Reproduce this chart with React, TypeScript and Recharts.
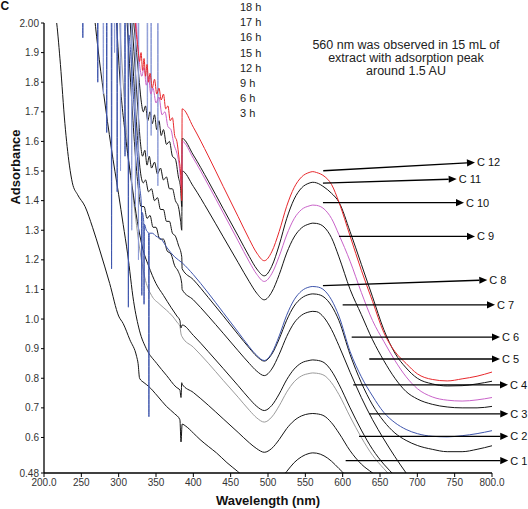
import { Label, Line, LineChart, ReferenceLine, XAxis, YAxis } from "recharts"

type Pt = [number, number]

const FONT = "'Liberation Sans', Arial, sans-serif"

// x = wavelength (nm), y = absorbance
const c1: Pt[] = [
  [212, 2.08], [217, 2.0], [222, 1.86], [228, 1.66], [234, 1.52], [238, 1.46], [245, 1.42], [255, 1.38],
  [265, 1.31], [275, 1.23], [288, 1.12], [300, 1.01], [306, 0.985], [315, 0.93], [324, 0.874], [326, 0.85],
  [328, 0.8], [334, 0.785], [340, 0.773], [352, 0.74], [364, 0.705], [375, 0.68], [382, 0.66], [383.5, 0.585],
  [385, 0.645], [390, 0.638], [400, 0.615], [409, 0.593], [420, 0.57], [431, 0.548], [445, 0.515], [459, 0.486],
  [470, 0.462], [480, 0.443], [495, 0.425], [505, 0.432], [515, 0.455], [525, 0.485], [535, 0.515], [545, 0.535],
  [555, 0.546], [560, 0.548], [565, 0.547], [575, 0.538], [585, 0.52], [595, 0.495], [605, 0.47], [615, 0.44],
]

const c3: Pt[] = [
  [266, 2.06], [272, 1.92], [280, 1.76], [290, 1.58], [300, 1.42], [306, 1.32], [312, 1.22], [320, 1.06],
  [328, 0.96], [337, 0.9], [351, 0.85], [364, 0.81], [377, 0.77], [382, 0.76], [383.5, 0.735], [384.5, 0.785],
  [385, 0.78], [400, 0.752], [420, 0.709], [440, 0.663], [460, 0.617], [475, 0.582], [485, 0.562], [495, 0.55],
  [505, 0.563], [515, 0.593], [525, 0.63], [535, 0.657], [545, 0.673], [555, 0.68], [560, 0.681], [565, 0.68],
  [575, 0.673], [585, 0.65], [595, 0.615], [610, 0.555], [625, 0.51], [640, 0.48], [655, 0.45],
]

const c4: Pt[] = [
  [300, 2.06], [306, 1.8], [312, 1.58], [320, 1.4], [328, 1.24], [336, 1.13], [344, 1.08], [355, 1.05],
  [364, 1.03], [372, 1.01], [378, 0.99], [382, 0.975], [383.5, 0.95], [385, 0.94], [400, 0.905], [420, 0.851],
  [440, 0.793], [460, 0.736], [475, 0.692], [485, 0.666], [495, 0.652], [505, 0.669], [515, 0.707], [525, 0.753],
  [535, 0.788], [545, 0.808], [555, 0.816], [560, 0.818], [565, 0.817], [575, 0.81], [585, 0.785], [595, 0.745],
  [610, 0.67], [625, 0.6], [640, 0.54], [655, 0.495], [670, 0.455], [685, 0.42],
]

const c5: Pt[] = [
  [296, 2.06], [302, 1.8], [310, 1.6], [318, 1.45], [325, 1.33], [332, 1.24], [340, 1.18], [350, 1.12],
  [360, 1.08], [370, 1.04], [378, 1.01], [382, 0.995], [383.5, 0.97], [385, 0.98], [400, 0.945], [420, 0.89],
  [440, 0.833], [460, 0.775], [475, 0.731], [485, 0.705], [495, 0.691], [505, 0.708], [515, 0.747], [525, 0.795],
  [535, 0.831], [545, 0.852], [555, 0.86], [560, 0.862], [565, 0.861], [575, 0.853], [585, 0.825], [595, 0.78],
  [610, 0.7], [625, 0.625], [640, 0.56], [655, 0.51], [670, 0.47], [685, 0.43],
]

const c6: Pt[] = [
  [310, 2.06], [316, 1.8], [321, 1.6], [326, 1.45], [330, 1.38], [334, 1.38], [338, 1.34], [342, 1.35],
  [346, 1.31], [350, 1.31], [355, 1.27], [360, 1.27], [365, 1.23], [370, 1.22], [375, 1.18], [380, 1.16],
  [384.5, 1.12], [385, 1.1], [400, 1.065], [420, 1.01], [440, 0.952], [460, 0.893], [475, 0.85], [485, 0.824],
  [495, 0.809], [505, 0.831], [515, 0.881], [525, 0.941], [535, 0.987], [545, 1.013], [555, 1.024], [560, 1.026],
  [565, 1.025], [575, 1.005], [585, 0.965], [595, 0.91], [610, 0.82], [625, 0.735], [640, 0.66], [655, 0.595],
  [670, 0.535], [685, 0.48], [700, 0.43],
]

const c7: Pt[] = [
  [314, 2.06], [320, 1.82], [325, 1.62], [329, 1.5], [333, 1.46], [336, 1.47], [340, 1.43], [344, 1.44],
  [348, 1.4], [352, 1.41], [356, 1.37], [360, 1.37], [364, 1.33], [368, 1.33], [372, 1.29], [376, 1.28],
  [380, 1.25], [384.5, 1.21], [385, 1.17], [400, 1.133], [420, 1.073], [440, 1.011], [460, 0.948], [475, 0.902],
  [485, 0.874], [495, 0.858], [505, 0.881], [515, 0.933], [525, 0.996], [535, 1.044], [545, 1.071], [555, 1.083],
  [560, 1.085], [565, 1.084], [575, 1.074], [585, 1.045], [595, 0.995], [610, 0.88], [625, 0.785], [640, 0.71],
  [655, 0.655], [670, 0.615], [685, 0.59], [700, 0.573], [720, 0.56], [740, 0.552], [760, 0.552], [780, 0.56],
  [800, 0.572],
]

const c8: Pt[] = [
  [240, 2.1], [251.5, 2.1], [252, 1.95], [252.5, 2.1], [271.5, 2.1], [272, 1.8], [272.5, 2.1], [283.5, 2.1],
  [284, 1.63], [284.5, 2.1], [290, 2.1], [290.5, 1.17], [291, 2.1], [297.5, 2.1], [298, 1.43], [298.5, 2.1],
  [308, 2.1], [308.5, 1.55], [309, 2.1], [312.5, 2.08], [313, 1.04], [313.5, 1.96], [318, 1.82], [322, 1.66],
  [325, 1.55], [328, 1.45], [330.5, 1.38], [331, 1.08], [331.5, 1.36], [333.5, 1.33], [334, 1.05], [334.5, 1.32],
  [337, 1.3], [340, 1.29], [340.5, 0.67], [341, 1.29], [345, 1.29], [350, 1.28], [357, 1.27], [365, 1.24],
  [375, 1.21], [385, 1.19], [400, 1.15], [420, 1.088], [440, 1.022], [460, 0.956], [475, 0.906], [485, 0.877],
  [495, 0.86], [505, 0.885], [515, 0.943], [525, 1.013], [535, 1.065], [545, 1.095], [555, 1.108], [560, 1.11],
  [565, 1.109], [575, 1.098], [585, 1.065], [595, 1.01], [610, 0.89], [625, 0.805], [640, 0.74], [655, 0.685],
  [670, 0.65], [685, 0.627], [700, 0.613], [720, 0.604], [740, 0.602], [760, 0.606], [780, 0.613], [800, 0.623],
]

// lighter blue spikes in the noisy UV part
const c8b: Pt[] = [
  [255, 2.1], [279, 2.1], [279.5, 1.76], [280, 2.1], [294, 2.1], [294.5, 1.9], [295, 2.1], [302, 2.1],
  [302.5, 1.5], [303, 2.1], [317, 2.1], [317.5, 1.3], [318, 2.1], [322, 2.1], [322.5, 1.38], [323, 2.1],
  [326, 2.1], [326.5, 1.2], [327, 2.1], [338, 2.1], [338.5, 1.55], [339, 2.1], [343, 2.1], [343.5, 1.62],
  [344, 2.1], [352, 2.1], [352.5, 1.45], [353, 2.1], [360, 2.1],
]

const c9: Pt[] = [
  [316, 2.06], [322, 1.85], [326, 1.7], [329, 1.6], [332, 1.55], [335, 1.57], [338, 1.52], [341, 1.55],
  [344, 1.51], [348, 1.53], [352, 1.49], [356, 1.51], [360, 1.47], [364, 1.48], [368, 1.44], [372, 1.44],
  [376, 1.4], [380, 1.38], [383, 1.33], [384.5, 1.3], [385, 1.5], [400, 1.448], [420, 1.365], [440, 1.278],
  [460, 1.191], [475, 1.126], [485, 1.087], [495, 1.065], [505, 1.091], [515, 1.15], [525, 1.223], [535, 1.277],
  [545, 1.308], [555, 1.321], [560, 1.324], [565, 1.323], [575, 1.311], [585, 1.275], [595, 1.21], [610, 1.1],
  [625, 1.015], [640, 0.93], [655, 0.86], [670, 0.8], [685, 0.755], [700, 0.73], [720, 0.712], [740, 0.703],
  [760, 0.7], [780, 0.7], [800, 0.705],
]

const c10: Pt[] = [
  [322, 2.06], [328, 1.86], [331, 1.82], [334, 1.85], [337, 1.79], [340, 1.82], [343, 1.76], [346, 1.78],
  [350, 1.73], [354, 1.75], [358, 1.69], [362, 1.7], [366, 1.65], [370, 1.64], [374, 1.59], [378, 1.56],
  [381, 1.52], [383, 1.47], [384.5, 1.44], [385, 1.6], [400, 1.543], [420, 1.453], [440, 1.359], [460, 1.264],
  [475, 1.193], [485, 1.151], [495, 1.127], [505, 1.153], [515, 1.212], [525, 1.284], [535, 1.339], [545, 1.37],
  [555, 1.382], [560, 1.385], [565, 1.384], [575, 1.372], [585, 1.34], [595, 1.285], [610, 1.195], [625, 1.09],
  [640, 0.995], [655, 0.925], [670, 0.86], [685, 0.805], [700, 0.765], [720, 0.737], [740, 0.726], [760, 0.723],
  [780, 0.727], [800, 0.735],
]

const c11: Pt[] = [
  [318, 2.06], [324, 1.9], [327, 1.82], [330, 1.74], [333, 1.7], [336, 1.72], [339, 1.67], [342, 1.7],
  [345, 1.66], [348, 1.69], [351, 1.64], [354, 1.67], [357, 1.62], [360, 1.64], [364, 1.59], [368, 1.6],
  [372, 1.55], [376, 1.54], [380, 1.48], [383, 1.44], [384.5, 1.38], [385, 1.61], [400, 1.554], [420, 1.466],
  [440, 1.373], [460, 1.281], [475, 1.211], [485, 1.169], [495, 1.146], [505, 1.178], [515, 1.25], [525, 1.339],
  [535, 1.405], [545, 1.443], [555, 1.459], [560, 1.462], [565, 1.46], [575, 1.446], [585, 1.425], [595, 1.395],
  [610, 1.295], [625, 1.185], [640, 1.075], [655, 0.965], [670, 0.885], [685, 0.835], [700, 0.8], [720, 0.781],
  [740, 0.774], [760, 0.775], [780, 0.781], [800, 0.79],
]

const c12: Pt[] = [
  [320, 2.06], [326, 1.91], [328, 1.87], [330, 1.9], [332, 1.84], [334, 1.88], [336, 1.82], [338, 1.86],
  [340, 1.8], [342, 1.83], [345, 1.78], [348, 1.81], [351, 1.76], [354, 1.78], [357, 1.74], [360, 1.76],
  [363, 1.71], [366, 1.72], [369, 1.67], [372, 1.68], [375, 1.62], [378, 1.6], [381, 1.54], [383, 1.49],
  [384.5, 1.4], [385, 1.71], [400, 1.648], [420, 1.551], [440, 1.448], [460, 1.346], [475, 1.269], [485, 1.223],
  [495, 1.197], [505, 1.227], [515, 1.296], [525, 1.381], [535, 1.444], [545, 1.48], [555, 1.495], [560, 1.498],
  [565, 1.495], [575, 1.483], [585, 1.455], [595, 1.395], [610, 1.28], [625, 1.165], [640, 1.06], [655, 0.955],
  [670, 0.89], [685, 0.85], [700, 0.815], [720, 0.796], [740, 0.791], [760, 0.798], [780, 0.807], [800, 0.821],
]

const arrowLabels = ["C 12", "C 11", "C 10", "C 9", "C 8", "C 7", "C 6", "C 5", "C 4", "C 3", "C 2", "C 1"]
const arrowFrom: Pt[] = [
  [574, 1.501], [573.6, 1.459], [573.6, 1.393], [595.1, 1.279], [573.6, 1.113], [600, 1.048],
  [612.1, 0.939], [635.6, 0.865], [614.2, 0.778], [635.6, 0.68], [621.9, 0.604], [604, 0.522],
]
const arrowTo: Pt[] = [
  [777.2, 1.529], [752.7, 1.473], [762.5, 1.393], [777.2, 1.279], [793.7, 1.132], [804, 1.048],
  [810.7, 0.939], [810.7, 0.865], [821.4, 0.778], [821.8, 0.68], [821.8, 0.604], [821.8, 0.522],
]

const hourLabels = ["18 h", "17 h", "16 h", "15 h", "12 h", "9 h", "6 h", "3 h"]
const noteLines = ["560 nm was observed in 15 mL of", "extract with adsorption peak", "around 1.5 AU"]

const xTicks = [200, 250, 300, 350, 400, 450, 500, 550, 600, 650, 700, 750, 800]
const yTicks = [0.48, 0.6, 0.7, 0.8, 0.9, 1.0, 1.1, 1.2, 1.3, 1.4, 1.5, 1.6, 1.7, 1.8, 1.9, 2.0]

const series = [
  { key: "c1", points: c1, color: "#151515" },
  { key: "c3", points: c3, color: "#151515" },
  { key: "c4", points: c4, color: "#9b9b9b" },
  { key: "c5", points: c5, color: "#151515" },
  { key: "c6", points: c6, color: "#151515" },
  { key: "c7", points: c7, color: "#151515" },
  { key: "c9", points: c9, color: "#151515" },
  { key: "c11", points: c11, color: "#151515" },
  { key: "c8b", points: c8b, color: "#8e9cd6" },
  { key: "c8", points: c8, color: "#3f56ad" },
  { key: "c10", points: c10, color: "#c963c9" },
  { key: "c12", points: c12, color: "#e8282c" },
]

const rows = (pts: Pt[]) => pts.map(([x, y]) => ({ x, y }))
const fmtX = (v: number) => (v === 200 || v === 800 ? v.toFixed(1) : String(v))
const fmtY = (v: number) => (v === 2 ? "2.00" : v === 0.48 ? "0.48" : v.toFixed(1))

function Arrow(props: any) {
  const { x1, y1, x2, y2, label } = props
  const ang = Math.atan2(y2 - y1, x2 - x1)
  const len = 8
  const half = 3.6
  const bx = x2 - len * Math.cos(ang)
  const by = y2 - len * Math.sin(ang)
  const pts = [
    `${x2},${y2}`,
    `${bx + half * Math.sin(ang)},${by - half * Math.cos(ang)}`,
    `${bx - half * Math.sin(ang)},${by + half * Math.cos(ang)}`,
  ].join(" ")
  return (
    <g>
      <line x1={x1} y1={y1} x2={bx} y2={by} stroke="#000" strokeWidth={1.3} />
      <polygon points={pts} fill="#000" />
      <text x={x2 + 2} y={y2} dominantBaseline="central" fontSize={11} fill="#111" fontFamily={FONT}>
        {label}
      </text>
    </g>
  )
}

export default function App() {
  return (
    <div style={{ position: "absolute", left: 0, top: 0, width: 528, height: 509, background: "#fff" }}>
      <LineChart width={528} height={509} margin={{ top: 23, right: 36, bottom: 0, left: 10 }}>
        <XAxis
          type="number"
          dataKey="x"
          domain={[200, 800]}
          allowDataOverflow
          ticks={xTicks}
          interval={0}
          tickFormatter={fmtX}
          height={36}
          tickSize={4}
          tickMargin={2}
          axisLine={{ stroke: "#000", strokeWidth: 1.3 }}
          tickLine={{ stroke: "#000" }}
          tick={{ fontSize: 10, fill: "#333", fontFamily: FONT }}
        >
          <Label
            value="Wavelength (nm)"
            position="insideBottom"
            offset={4}
            style={{ fontSize: 13, fontWeight: 700, fill: "#111", fontFamily: FONT }}
          />
        </XAxis>
        <YAxis
          type="number"
          domain={[0.48, 2.0]}
          allowDataOverflow
          ticks={yTicks}
          interval={0}
          tickFormatter={fmtY}
          width={34}
          tickSize={3}
          tickMargin={2}
          axisLine={{ stroke: "#000", strokeWidth: 1.3 }}
          tickLine={{ stroke: "#000" }}
          tick={{ fontSize: 10, fill: "#333", fontFamily: FONT }}
        />
        {series.map((s) => (
          <Line
            key={s.key}
            data={rows(s.points)}
            dataKey="y"
            type="monotone"
            stroke={s.color}
            strokeWidth={1}
            dot={false}
            activeDot={false}
            isAnimationActive={false}
          />
        ))}
        {arrowLabels.map((label, i) => (
          <ReferenceLine
            key={label}
            segment={[
              { x: arrowFrom[i][0], y: arrowFrom[i][1] },
              { x: arrowTo[i][0], y: arrowTo[i][1] },
            ]}
            ifOverflow="visible"
            shape={(p: any) => <Arrow {...p} label={label} />}
          />
        ))}
      </LineChart>
      <svg
        width={528}
        height={509}
        style={{ position: "absolute", left: 0, top: 0, pointerEvents: "none" }}
        fontFamily={FONT}
      >
        <text x={0.5} y={10} fontSize={12} fontWeight={700} fill="#111">
          C
        </text>
        {hourLabels.map((h, i) => (
          <text key={h} x={240} y={11 + i * 15.2} fontSize={11} fill="#222">
            {h}
          </text>
        ))}
        {noteLines.map((t, i) => (
          <text key={t} x={406} y={48.5 + i * 13} fontSize={12.5} textAnchor="middle" fill="#222">
            {t}
          </text>
        ))}
        <text transform="translate(20,167) rotate(-90)" textAnchor="middle" fontSize={13} fontWeight={700} fill="#111">
          Adsorbance
        </text>
      </svg>
    </div>
  )
}
